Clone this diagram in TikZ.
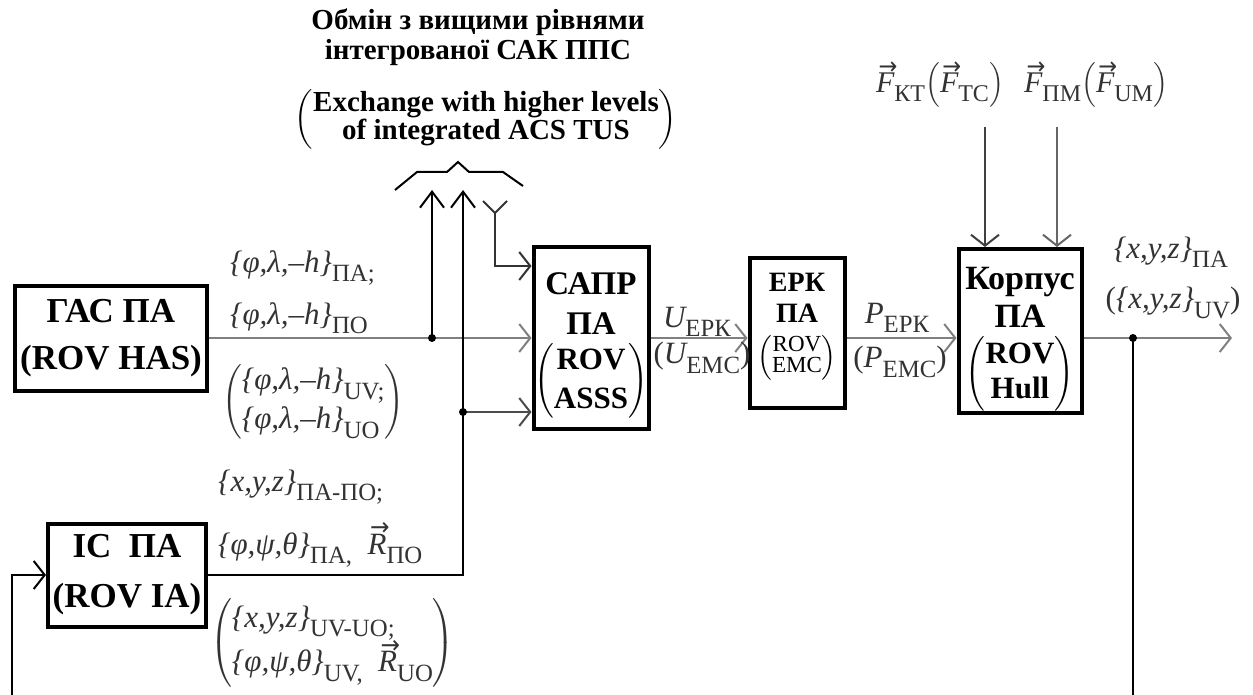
\RequirePackage{fix-cm}
\documentclass[tikz,border=0pt]{standalone}
\usepackage{amsmath}
\usepackage{fontspec}
\setmainfont{Liberation Serif}
\newfontfamily\arrfont{DejaVu Sans}
\usetikzlibrary{arrows.meta, calc}

\newcommand{\lowsub}[1]{\raisebox{-0.3em}{\scalebox{0.8}{\upshape #1}}}
\newcommand{\vecit}[1]{\makebox[0pt][l]{\raisebox{0.6em}{\hspace{0.08em}\scalebox{0.75}[0.8]{\arrfont\upshape →}}}{\itshape #1}}
\newcommand{\pargrp}[3][c]{$\left(\begin{tabular}{@{}#1@{}}#2\\#3\end{tabular}\right)$}
\newcommand{\plh}{{\itshape\{φ,λ,–h\}}}
\newcommand{\xyzset}{{\itshape\{x,y,z\}}}
\newcommand{\ppt}{{\itshape\{φ,ψ,θ\}}}

\begin{document}
\begin{tikzpicture}[x=1pt, y=-1pt,
  block/.style={draw=black, line width=4pt, fill=white, align=center, inner sep=0pt},
  lbl/.style={text=black!80, inner sep=0pt, align=left, font=\fontsize{31}{37}\selectfont},
  sig/.style={-{Straight Barb[length=11pt, width=28pt]}, line width=2pt, draw=black!50},
  ctl/.style={line width=2pt, draw=black},
  uparr/.style={ctl, -{Straight Barb[length=16pt, width=24pt]}},
  dot/.style={circle, fill=black, inner sep=0pt, minimum size=8pt}
]
\useasboundingbox (0,0) rectangle (1253,695);

% blocks
\node[block, minimum width=192pt, minimum height=105pt,
      font=\bfseries\fontsize{35}{47}\selectfont] (has) at (111,338)
  {ГАС ПА\\(ROV HAS)};
\node[block, minimum width=158pt, minimum height=103pt,
      font=\bfseries\fontsize{35}{50}\selectfont] (ia) at (127,575)
  {ІС\ \ ПА\\(ROV IA)};
\node[block, minimum width=115pt, minimum height=181pt,
      font=\bfseries\fontsize{33}{40}\selectfont] (asss) at (591,338)
  {\rule{0pt}{38pt}САПР\\ПА\\[7pt]
   {\fontsize{31}{39}\selectfont\pargrp{ROV}{ASSS}}};
\node[block, minimum width=95pt, minimum height=150pt,
      font=\bfseries\fontsize{28}{31}\selectfont] (emc) at (797,333)
  {ЕРК\\ПА\\[10pt]
   {\mdseries\fontsize{23}{20}\selectfont\pargrp{ROV}{EMC}}\rule[-30pt]{0pt}{1pt}};
\node[block, minimum width=123pt, minimum height=164pt,
      font=\bfseries\fontsize{34}{38}\selectfont] (hull) at (1020,331)
  {\rule{0pt}{38pt}Корпус\\ПА\\[8pt]
   {\fontsize{31}{35}\selectfont\pargrp{ROV}{Hull}}};

% exchange with the higher levels
\node[font=\bfseries\fontsize{29}{30}\selectfont, align=center] (ttl) at (478,37)
  {Обмін з вищими рівнями\\інтегрованої САК ППС};
\node[font=\bfseries\fontsize{29}{26}\selectfont, align=center] (ttlen) at (486,119)
  {\pargrp{Exchange with higher levels}{of integrated ACS TUS}};
\draw[line width=2pt] (395,190) -- (417,172) -- (447,172) -- (458,162)
  -- (469,172) -- (503,172) -- (523,186);

% points
\coordinate (j1) at (432,338);
\coordinate (j2) at (463,412);
\coordinate (j3) at (1133,338);
\coordinate (up1) at (432,190);
\coordinate (up2) at (463,190);
\coordinate (dn) at (495,200);
\coordinate (out) at (1232,338);
\coordinate (f1) at (985,127);
\coordinate (f2) at (1057,127);
\coordinate (fbr) at (1133,695);
\coordinate (fbl) at (12,695);

% connectors
\draw[sig] (has.east) -- (has.east -| asss.west);
\draw[uparr] (j1) -- (up1);
\draw[ctl] (ia.east) -| (j2);
\draw[sig, draw=black!70] (j2) -- (j2 -| asss.west);
\draw[uparr] (j2) -- (up2);
\draw[sig, draw=black!80, {Straight Barb[reversed, length=12pt, width=24pt]}-{Straight Barb[length=11pt, width=28pt]}]
  (dn) |- ([yshift=72pt]asss.west);
\draw[sig] (asss.east) -- (asss.east -| emc.west);
\draw[sig] (emc.east |- j1) -- (hull.west |- j1);
\draw[sig] (hull.east |- j1) -- (out);
\draw[sig, draw=black!75] (f1) -- (f1 |- hull.north);
\draw[sig, draw=black!60] (f2) -- (f2 |- hull.north);
\draw[ctl] (j3) -- (fbr);
\draw[ctl, -{Straight Barb[length=11pt, width=28pt]}] (fbl) |- (ia.west);
\node[dot] at (j1) {};
\node[dot] at (j2) {};
\node[dot] at (j3) {};

% labels
\node[lbl, anchor=west] (phiA) at (230,268) {\plh\lowsub{ПА;}};
\node[lbl, anchor=west] (phiB) at (230,318) {\plh\lowsub{ПО}};
\node[lbl, anchor=west] (phiC) at (222,402) {\pargrp[l]{\plh\lowsub{UV;}}{\plh\lowsub{UO}}};
\node[lbl, anchor=west] (xyzA) at (218,487) {\xyzset\lowsub{ПА-ПО;}};
\node[lbl, anchor=west] (pptA) at (218,545) {\ppt\lowsub{ПА,}\ \ \vecit{R}\lowsub{ПО}};
\node[lbl, anchor=west] (xyzC) at (210,643)
  {\pargrp[l]{\xyzset\lowsub{UV-UO;}}{\ppt\lowsub{UV,}\ \ \vecit{R}\lowsub{UO}}};
\node[lbl, font=\fontsize{31}{34}\selectfont] (uepk) at (697,322) {{\itshape U}\lowsub{ЕРК}};
\node[lbl, font=\fontsize{31}{34}\selectfont] (uemc) at (702,358) {({\itshape U}\lowsub{EMC})};
\node[lbl, font=\fontsize{31}{34}\selectfont] (pepk) at (897,318) {{\itshape P}\lowsub{ЕРК}};
\node[lbl, font=\fontsize{31}{34}\selectfont] (pemc) at (900,362) {({\itshape P}\lowsub{EMC})};
\node[lbl, font=\fontsize{30}{34}\selectfont] (fkt) at (940,85)
  {\vecit{F}\lowsub{КТ}$\left(\mbox{\vecit{F}\lowsub{TC}}\right)$};
\node[lbl, font=\fontsize{30}{34}\selectfont] (fpm) at (1096,85)
  {\vecit{F}\lowsub{ПМ}$\left(\mbox{\vecit{F}\lowsub{UM}}\right)$};
\node[lbl] (xyzpa) at (1171,252) {\xyzset\lowsub{ПА}};
\node[lbl] (xyzuv) at (1173,303) {(\xyzset\lowsub{UV})};

\end{tikzpicture}
\end{document}
